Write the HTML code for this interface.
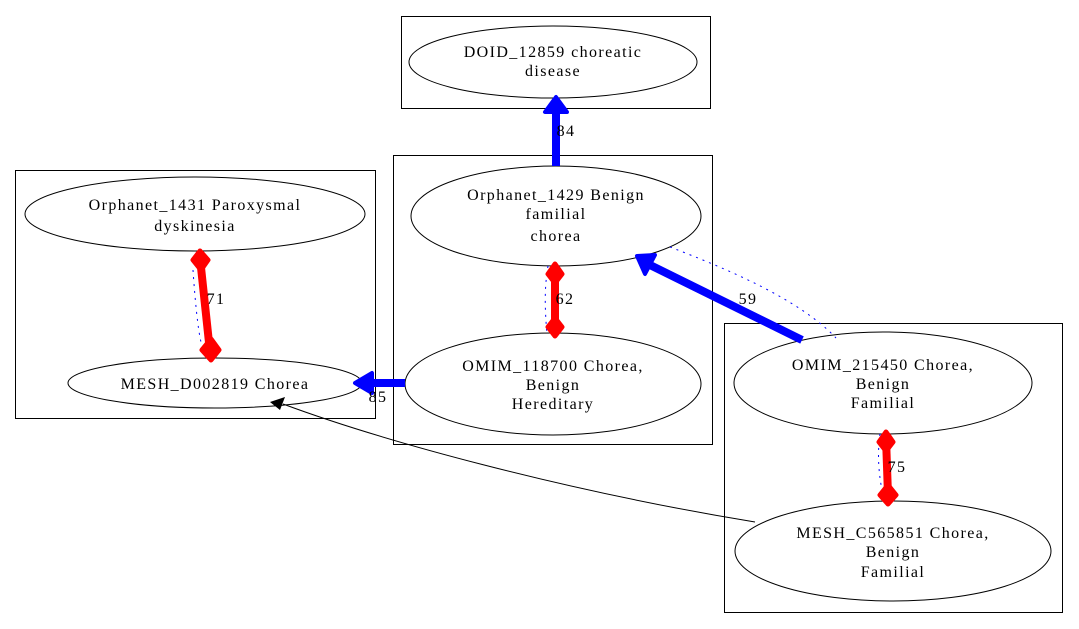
<!DOCTYPE html>
<html><head><meta charset="utf-8"><style>html,body{margin:0;padding:0;background:#fff;}svg{display:block}</style></head><body>
<svg width="1079" height="629" viewBox="0 0 1079 629" xmlns="http://www.w3.org/2000/svg" font-family="Liberation Serif, serif" font-size="16" letter-spacing="1.4">
<rect width="1079" height="629" fill="#fff"/>
<g fill="none" stroke="#000" stroke-width="1">
<rect x="401.5" y="16.5" width="309" height="92"/>
<rect x="393.5" y="155.5" width="319" height="289"/>
<rect x="15.5" y="170.5" width="360" height="248"/>
<rect x="724.5" y="323.5" width="338" height="289"/>
<ellipse cx="553" cy="62" rx="144" ry="36"/>
<ellipse cx="556" cy="216" rx="145" ry="50"/>
<ellipse cx="195" cy="214" rx="170" ry="37"/>
<ellipse cx="215" cy="383" rx="147" ry="25"/>
<ellipse cx="553" cy="384" rx="148" ry="51"/>
<ellipse cx="883" cy="383" rx="149" ry="51"/>
<ellipse cx="893" cy="551" rx="158" ry="50"/>
</g>
<g fill="none" stroke="#00f" stroke-dasharray="2,5" stroke-width="1">
<path d="M193,270 C195,300 198,330 201,342"/>
<path d="M548,266 C544,290 545,310 547,335"/>
<path d="M670,247 C730,270 800,300 836,338"/>
<path d="M880,434 C877,455 879,475 882,490"/>
</g>
<path d="M755,522 C560,490 380,440 283,404" fill="none" stroke="#000"/>
<polygon points="270,402 285,397 280,410" fill="#000"/>
<g stroke="#00f" stroke-width="8" fill="none">
<line x1="556" y1="166" x2="556" y2="110"/>
<line x1="405" y1="383" x2="370" y2="383"/>
<line x1="802" y1="340" x2="650" y2="265"/>
</g>
<g fill="#00f" stroke="#00f" stroke-width="4" stroke-linejoin="round">
<polygon points="545,112 567,112 556,97"/>
<polygon points="372,373 372,393 355,383"/>
<polygon points="655,255 645,274 637,256"/>
</g>
<g stroke="#f00" stroke-width="8" fill="none">
<line x1="200" y1="258" x2="210" y2="352"/>
<line x1="555" y1="270" x2="555" y2="332"/>
<line x1="886" y1="438" x2="888" y2="495"/>
</g>
<g fill="#f00" stroke="#f00" stroke-width="5" stroke-linejoin="round">
<polygon points="200,251 208,260 201,270 193,260"/>
<polygon points="211,339 219,350 211,360 202,350"/>
<polygon points="555,264 562,274 555,283 548,274"/>
<polygon points="555,318 562,327 555,336 548,327"/>
<polygon points="886,432 893,442 886,451 879,442"/>
<polygon points="888,485 896,495 888,504 880,495"/>
</g>
<g fill="#000" text-anchor="middle">
<text x="553" y="57">DOID_12859 choreatic</text><text x="553" y="76">disease</text>
<text x="556" y="200">Orphanet_1429 Benign</text><text x="556" y="219">familial</text><text x="556" y="241">chorea</text>
<text x="195" y="210">Orphanet_1431 Paroxysmal</text><text x="195" y="231">dyskinesia</text>
<text x="215" y="389">MESH_D002819 Chorea</text>
<text x="553" y="371">OMIM_118700 Chorea,</text><text x="553" y="390">Benign</text><text x="553" y="409">Hereditary</text>
<text x="883" y="370">OMIM_215450 Chorea,</text><text x="883" y="389">Benign</text><text x="883" y="408">Familial</text>
<text x="893" y="538">MESH_C565851 Chorea,</text><text x="893" y="557">Benign</text><text x="893" y="577">Familial</text>
<text x="566" y="136">84</text>
<text x="216" y="304">71</text>
<text x="565" y="304">62</text>
<text x="748" y="304">59</text>
<text x="378" y="402">85</text>
<text x="897" y="472">75</text>
</g>
</svg>
</body></html>
